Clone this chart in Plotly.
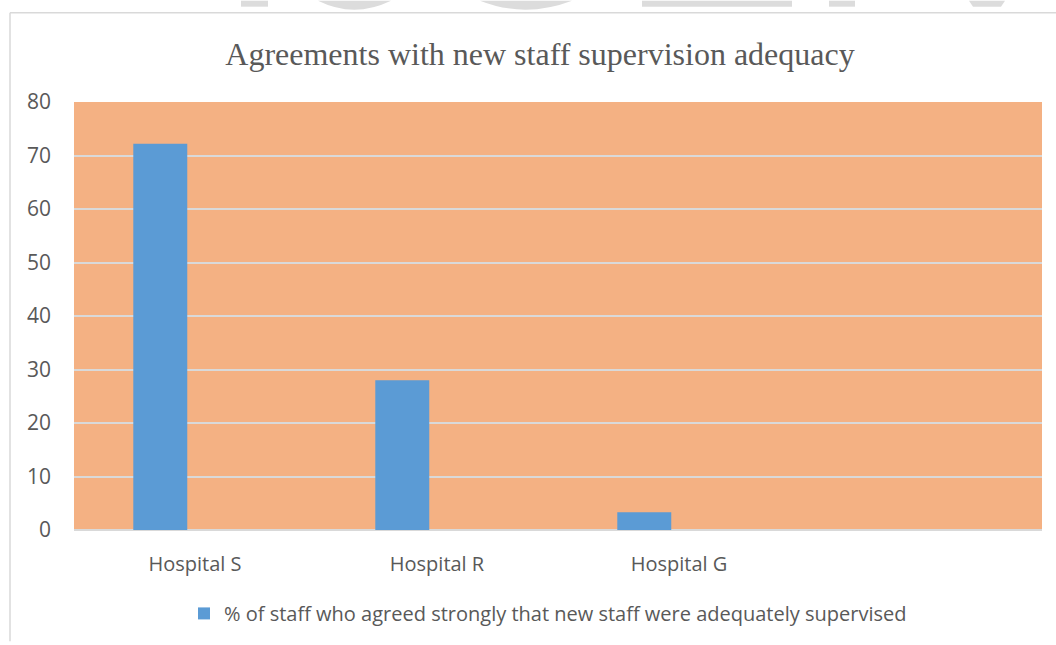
import plotly.graph_objects as go

# Survey results per hospital
hospitals = ["Hospital S", "Hospital R", "Hospital G"]
agreed_strongly = [72.2, 28.0, 3.3]
series_name = "% of staff who agreed strongly that new staff were adequately supervised"
y_ticks = [0, 10, 20, 30, 40, 50, 60, 70, 80]

W, H = 1056, 645
ML, MR, MT, MB = 74, 14, 102, 112
PW, PH = W - ML - MR, H - MT - MB

TEXT = "#595959"
GRID = "#D9D9D9"


def px(x):
    return (x - ML) / PW


def py(y):
    return (H - MB - y) / PH


def to_path(cmds):
    out = []
    for c in cmds:
        if isinstance(c, str):
            out.append(c)
        else:
            out.append(f"{px(c[0]):.5f},{py(c[1]):.5f}")
    return " ".join(out)


fig = go.Figure()
fig.add_trace(go.Bar(
    x=hospitals,
    y=agreed_strongly,
    name=series_name,
    marker=dict(color="#5B9BD5", line=dict(width=0)),
    width=0.223,
    offset=-0.255,
    showlegend=True,
))

shapes = []
# outer chart frame (top and left edges)
shapes.append(dict(type="line", xref="paper", yref="paper",
                   x0=px(10), x1=px(1056), y0=py(12), y1=py(12),
                   line=dict(color=GRID, width=1.5)))
shapes.append(dict(type="line", xref="paper", yref="paper",
                   x0=px(10), x1=px(10), y0=py(12), y1=py(645),
                   line=dict(color=GRID, width=1.5)))

# faint page watermark fragments along the top edge
WM = "#DCDCDC"
for x0, x1 in [(241, 268), (642, 792), (829, 855)]:
    shapes.append(dict(type="rect", xref="paper", yref="paper",
                       x0=px(x0), x1=px(x1), y0=py(6), y1=py(0),
                       fillcolor=WM, line=dict(width=0)))
for a, m, b in [(318, 354, 391), (480, 525, 572)]:
    shapes.append(dict(type="path", xref="paper", yref="paper",
                       path=to_path(["M", (a, 0), "Q", (m, 18), (b, 0), "Z"]),
                       fillcolor=WM, line=dict(width=0)))
shapes.append(dict(type="path", xref="paper", yref="paper",
                   path=to_path(["M", (969, 0), "L", (1005, 0), "L", (1001, 6),
                                 "L", (973, 6), "Z"]),
                   fillcolor=WM, line=dict(width=0)))

fig.update_layout(
    width=W, height=H,
    margin=dict(l=ML, r=MR, t=MT, b=MB, pad=0),
    paper_bgcolor="white",
    plot_bgcolor="#F4B183",
    title=dict(
        text="Agreements with new staff supervision adequacy",
        font=dict(family="Liberation Serif, Times New Roman, serif", size=32, color=TEXT),
        x=540 / W, xref="container", xanchor="center",
        y=1 - 54 / H, yref="container", yanchor="middle",
    ),
    font=dict(family="Open Sans, sans-serif", color=TEXT, size=20),
    xaxis=dict(
        type="category",
        range=[-0.5, 3.5],
        showgrid=False,
        showline=False,
        zeroline=False,
        ticks="",
        ticklabelstandoff=20,
        tickfont=dict(size=20, color=TEXT),
        fixedrange=True,
    ),
    yaxis=dict(
        range=[0, 80],
        tickvals=y_ticks,
        showgrid=True,
        gridcolor=GRID,
        gridwidth=2,
        zeroline=True,
        zerolinecolor=GRID,
        zerolinewidth=2,
        showline=False,
        ticks="",
        ticklabelstandoff=22,
        tickfont=dict(size=21, color=TEXT),
        fixedrange=True,
    ),
    legend=dict(
        orientation="h",
        x=0.5 - 10 / PW, xanchor="center",
        y=py(617), yanchor="middle",
        font=dict(size=20, color=TEXT),
        bgcolor="rgba(0,0,0,0)",
    ),
    shapes=shapes,
    showlegend=True,
)

fig.write_html("out.html")
